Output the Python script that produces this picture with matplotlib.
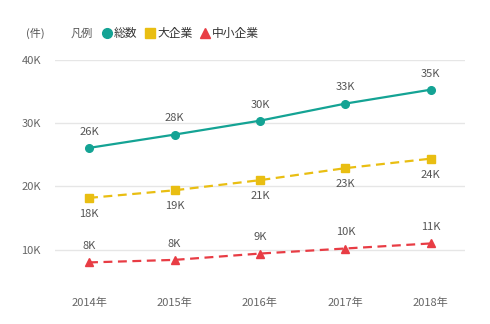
import matplotlib
matplotlib.use("Agg")
import matplotlib.pyplot as plt
from matplotlib.lines import Line2D

plt.rcParams['font.family'] = ['Noto Sans CJK JP', 'DejaVu Sans']

# data (件)
years = ['2014年', '2015年', '2016年', '2017年', '2018年']
total = [26100, 28200, 30400, 33100, 35300]
large = [18200, 19400, 21000, 22900, 24400]
small = [8000, 8400, 9400, 10200, 11000]
series_names = ['総数', '大企業', '中小企業']
yticks = [10000, 20000, 30000, 40000]

teal = '#14a394'
yellow = '#e9be12'
red = '#e83c44'
label_col = '#555555'

fig = plt.figure(figsize=(4.9, 3.24), dpi=100)
ax = fig.add_axes([0.112, 0.151, 0.837, 0.664])

x = list(range(len(years)))
ax.plot(x, total, color=teal, lw=1.6, marker='o', ms=5.5, clip_on=False, zorder=3)
ax.plot(x, large, color=yellow, lw=1.6, ls=(0, (4, 2.5)), marker='s', ms=5.5,
        clip_on=False, zorder=3)
ax.plot(x, small, color=red, lw=1.6, ls=(0, (4, 2.5)), marker='^', ms=6,
        clip_on=False, zorder=3)

def fmt(v):
    return f'{round(v / 1000)}K'

for i in x:
    ax.annotate(fmt(total[i]), (i, total[i]), xytext=(0, 8), textcoords='offset points',
                ha='center', va='bottom', fontsize=8, color=label_col)
    ax.annotate(fmt(large[i]), (i, large[i]), xytext=(0, -8), textcoords='offset points',
                ha='center', va='top', fontsize=8, color=label_col)
    ax.annotate(fmt(small[i]), (i, small[i]), xytext=(0, 8), textcoords='offset points',
                ha='center', va='bottom', fontsize=8, color=label_col)

ax.set_xlim(-0.4, 4.4)
ax.set_ylim(6000, 40000)
ax.set_yticks(yticks)
ax.set_yticklabels([fmt(v) for v in yticks])
ax.set_xticks(x)
ax.set_xticklabels(years)
ax.tick_params(axis='both', length=0, labelsize=8, labelcolor='#666666')
ax.tick_params(axis='x', pad=16)
ax.tick_params(axis='y', pad=10)
ax.grid(axis='y', color='#e6e6e6', lw=1)
ax.set_axisbelow(True)
for s in ax.spines.values():
    s.set_visible(False)

# legend row at the top
ly = 1 - 33 / 324
fig.text(26 / 490, ly, '(件)', fontsize=8, color='#555555', va='center')
fig.text(71 / 490, ly, '凡例', fontsize=8, color='#555555', va='center')
leg_items = [(107, 'o', teal, 7), (150, 's', yellow, 7), (205, '^', red, 7.5)]
for (px, mk, col, ms), name in zip(leg_items, series_names):
    fig.add_artist(Line2D([px / 490], [ly], marker=mk, color=col, ms=ms, ls='none',
                          transform=fig.transFigure))
    fig.text((px + 7) / 490, ly, name, fontsize=8.5, color='#333333', va='center')

fig.savefig('out.png', dpi=100)
